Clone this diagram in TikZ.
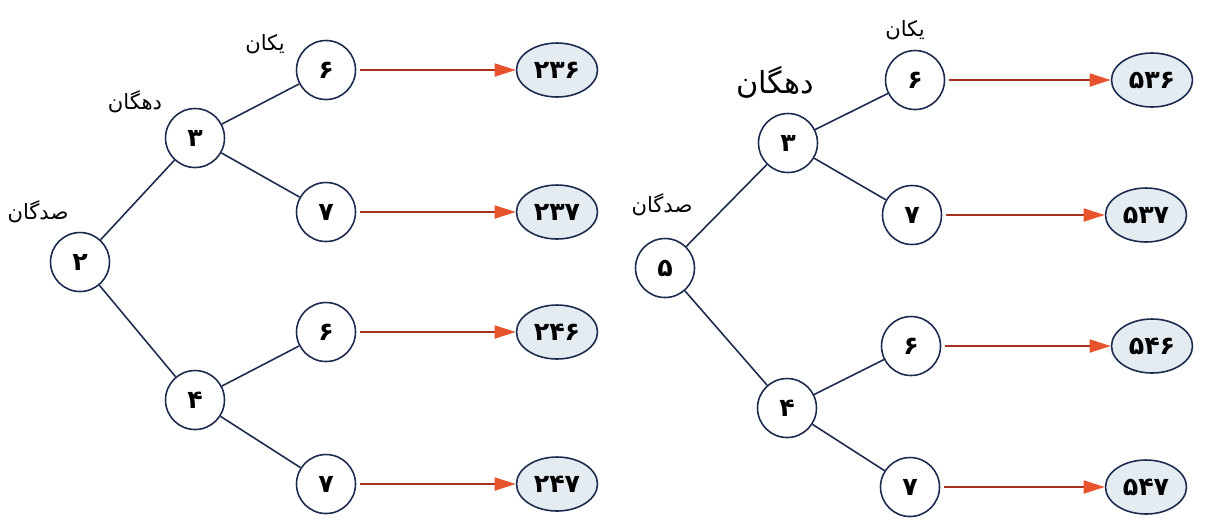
\documentclass[tikz,border=0pt]{standalone}
\usepackage{fontspec}
\usetikzlibrary{arrows.meta,shapes.geometric}
\TeXXeTstate=1
\newfontfamily\farsi[Script=Arabic]{DejaVu Sans}
\definecolor{navy}{HTML}{1C2A4E}
\definecolor{arrowred}{HTML}{A8301E}
\definecolor{tipred}{HTML}{E6532C}
\definecolor{leafblue}{HTML}{E4ECF2}

\begin{document}
\begin{tikzpicture}[
    x=0.02cm, y=-0.02cm,
    digit/.style={
        circle,
        minimum size=1.18cm,
        inner sep=0pt,
        draw=navy,
        line width=0.9pt,
        fill=white,
        font=\farsi\bfseries\Large
    },
    leaf/.style={
        ellipse,
        minimum width=1.62cm,
        minimum height=1.08cm,
        inner sep=0pt,
        draw=navy,
        line width=0.9pt,
        fill=leafblue,
        font=\farsi\bfseries\Large
    },
    place/.style={font=\farsi\large},
    branch/.style={draw=navy, line width=0.9pt},
    result/.style={
        draw=arrowred,
        line width=1pt,
        shorten <=2pt,
        -{Triangle[length=4.2mm,width=2.6mm,color=tipred]}
    }
]
\useasboundingbox (0,0) rectangle (1207,529);

% left tree
\node[digit] (a2) at (80,262) {۲};
\node[digit] (a3) at (195,138) {۳};
\node[digit] (a4) at (195,400) {۴};
\node[digit] (a36) at (326,70) {۶};
\node[digit] (a37) at (326,212) {۷};
\node[digit] (a46) at (326,332) {۶};
\node[digit] (a47) at (326,484) {۷};

\node[leaf] (r236) at (557,70) {۲۳۶};
\node[leaf] (r237) at (557,212) {۲۳۷};
\node[leaf] (r246) at (557,332) {۲۴۶};
\node[leaf] (r247) at (557,484) {۲۴۷};

\node[place] (sadA) at (38,212) {\beginR صدگان\endR};
\node[place] (dahA) at (135,102) {\beginR دهگان\endR};
\node[place] (yekA) at (265,44) {\beginR یکان\endR};

\draw[branch] (a2) -- (a3);
\draw[branch] (a2) -- (a4);
\draw[branch] (a3) -- (a36);
\draw[branch] (a3) -- (a37);
\draw[branch] (a4) -- (a46);
\draw[branch] (a4) -- (a47);

\draw[result] (a36) -- (r236);
\draw[result] (a37) -- (r237);
\draw[result] (a46) -- (r246);
\draw[result] (a47) -- (r247);

% right tree
\node[digit] (b5) at (665,268) {۵};
\node[digit] (b3) at (788,143) {۳};
\node[digit] (b4) at (787,408) {۴};
\node[digit] (b36) at (915,80) {۶};
\node[digit] (b37) at (912,215) {۷};
\node[digit] (b46) at (911,346) {۶};
\node[digit] (b47) at (910,487) {۷};

\node[leaf] (r536) at (1152,80) {۵۳۶};
\node[leaf] (r537) at (1146,215) {۵۳۷};
\node[leaf] (r546) at (1152,346) {۵۴۶};
\node[leaf] (r547) at (1146,487) {۵۴۷};

\node[place] (sadB) at (662,205) {\beginR صدگان\endR};
\node[place, font=\farsi\LARGE] (dahB) at (775,82) {\beginR دهگان\endR};
\node[place] (yekB) at (905,30) {\beginR یکان\endR};

\draw[branch] (b5) -- (b3);
\draw[branch] (b5) -- (b4);
\draw[branch] (b3) -- (b36);
\draw[branch] (b3) -- (b37);
\draw[branch] (b4) -- (b46);
\draw[branch] (b4) -- (b47);

\draw[result] (b36) -- (r536);
\draw[result] (b37) -- (r537);
\draw[result] (b46) -- (r546);
\draw[result] (b47) -- (r547);

\end{tikzpicture}
\end{document}
